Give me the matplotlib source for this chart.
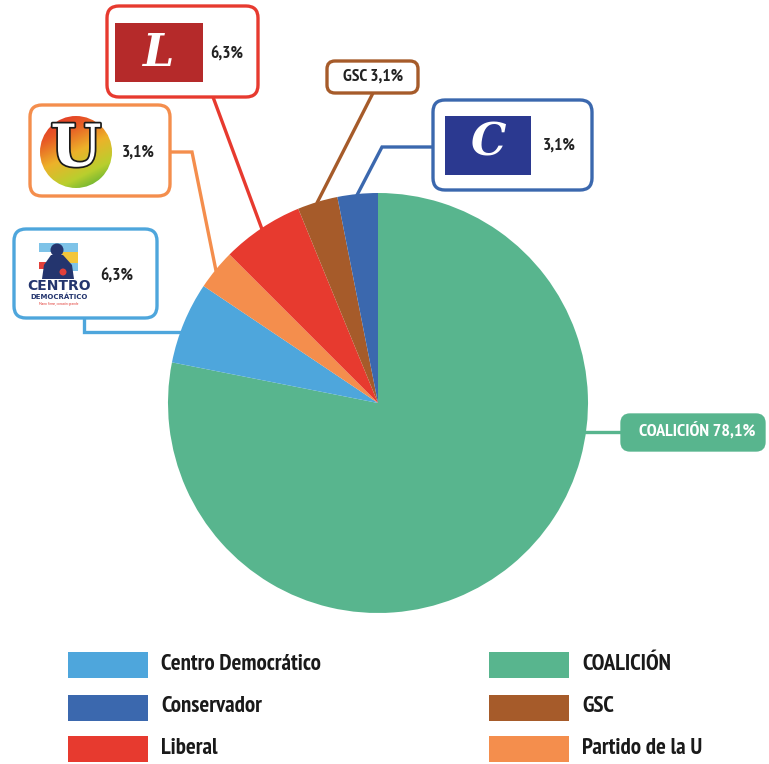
import numpy as np
import matplotlib
matplotlib.use('Agg')
import matplotlib.pyplot as plt
from matplotlib.patches import FancyBboxPatch, Rectangle, Circle, Polygon
import matplotlib.patheffects as pe

plt.rcParams['font.family'] = ['PT Sans Narrow', 'DejaVu Sans']

# datos
partidos = ['COALICIÓN', 'Centro Democrático', 'Partido de la U', 'Liberal', 'GSC', 'Conservador']
porcentajes = [78.1, 6.3, 3.1, 6.3, 3.1, 3.1]
colores = ['#58B58E', '#4EA6DC', '#F48E4D', '#E73A2F', '#A65B2A', '#3B68AE']
etiquetas = ['COALICIÓN 78,1%', '6,3%', '3,1%', '6,3%', 'GSC 3,1%', '3,1%']

# orden de la leyenda (dos columnas)
leyenda_col1 = ['Centro Democrático', 'Conservador', 'Liberal']
leyenda_col2 = ['COALICIÓN', 'GSC', 'Partido de la U']

W, H = 769, 764
fig = plt.figure(figsize=(W / 100, H / 100), dpi=100)
ax = fig.add_axes([0, 0, 1, 1])

cx, cy, R = 378, 403, 210
wedges, _ = ax.pie(porcentajes, colors=colores, startangle=-90, counterclock=True,
                   center=(cx, cy), radius=R, wedgeprops=dict(linewidth=0))
ax.set_xlim(0, W)
ax.set_ylim(H, 0)
ax.set_aspect('equal')
ax.axis('off')


def punto_medio(w):
    ang = np.deg2rad((w.theta1 + w.theta2) / 2)
    return cx + R * np.cos(ang), cy + R * np.sin(ang)


def borde_en_y(y, lado):
    dx = np.sqrt(R ** 2 - (y - cy) ** 2)
    return cx + lado * dx


def caja(x0, y0, x1, y1, color, rad=12, fill='white'):
    p = FancyBboxPatch((x0, y0), x1 - x0, y1 - y0,
                       boxstyle=f"round,pad=0,rounding_size={rad}",
                       fc=fill, ec=color, lw=2.4, zorder=5)
    ax.add_patch(p)


lw_con = 2.4
txt = dict(fontsize=12.5, fontweight='bold', color='#222222', ha='center', va='center', zorder=7)

# COALICION
c = colores[0]
xe = borde_en_y(432, 1)
ax.plot([xe - 2, 622], [432, 432], color=c, lw=lw_con, zorder=4)
caja(622, 415, 764, 450, c, rad=8, fill=c)
ax.text(697, 432, etiquetas[0], fontsize=13, fontweight='bold', color='white',
        ha='center', va='center', zorder=7)

# Centro Democratico
c = colores[1]
xe = borde_en_y(332, -1)
ax.plot([84, 84, xe + 2], [318, 332, 332], color=c, lw=lw_con, zorder=4, solid_joinstyle='miter')
caja(14, 229, 157, 318, c)
ax.text(117, 277, etiquetas[1], **txt)
# logo aproximado
ax.add_patch(Rectangle((39, 243), 39, 9, fc='#7EC3E8', ec='none', zorder=6))
ax.add_patch(Rectangle((62, 252), 16, 11, fc='#F3C63B', ec='none', zorder=6))
ax.add_patch(Rectangle((39, 262), 10, 7, fc='#E2403A', ec='none', zorder=6))
ax.add_patch(Rectangle((66, 263), 12, 8, fc='#7EC3E8', ec='none', zorder=6))
ax.add_patch(Circle((57, 250), 6.5, fc='#24356E', ec='none', zorder=7))
ax.add_patch(Polygon([(51, 255), (63, 255), (72, 265), (74, 279), (42, 279), (44, 265)],
                     closed=True, fc='#24356E', ec='none', zorder=7))
ax.add_patch(Circle((63, 272), 3.5, fc='#E2403A', ec='none', zorder=8))
ax.text(59, 286.5, 'CENTRO', fontsize=10, fontweight='bold', family='DejaVu Sans',
        color='#24356E', ha='center', va='center', zorder=7)
ax.text(59, 297, 'DEMOCRÁTICO', fontsize=5, fontweight='bold', family='DejaVu Sans',
        color='#24356E', ha='center', va='center', zorder=7)
ax.text(59, 304, 'Mano firme, corazón grande', fontsize=3, color='#E2403A',
        ha='center', va='center', zorder=7)

# Partido de la U
c = colores[2]
xm, ym = punto_medio(wedges[2])
ax.plot([170, 192, xm], [152, 152, ym], color=c, lw=lw_con, zorder=4, solid_joinstyle='miter')
caja(30, 105, 170, 196, c)
ax.text(138, 153, etiquetas[2], **txt)
grad = np.linspace(0, 1, 100)[:, None] * np.ones((1, 100))
grad = grad + 0.25 * np.linspace(-1, 1, 100)[None, :]
cmap_u = matplotlib.colors.LinearSegmentedColormap.from_list(
    'u', ['#E12A2B', '#E85A25', '#EDB22A', '#B9CF2E', '#3FA535'])
im = ax.imshow(grad, cmap=cmap_u, extent=(40, 112, 188, 116), origin='upper', zorder=6,
               interpolation='bilinear')
circ = Circle((76, 152), 36, transform=ax.transData, fc='none', ec='none')
ax.add_patch(circ)
im.set_clip_path(circ)
ax.text(76, 150, 'U', fontsize=42, fontweight='bold', family='DejaVu Serif', color='white',
        ha='center', va='center', zorder=8,
        path_effects=[pe.withStroke(linewidth=2.5, foreground='#1a1a1a')])

# Liberal
c = colores[3]
xm, ym = punto_medio(wedges[3])
ax.plot([213, xm], [97, ym], color=c, lw=lw_con, zorder=4)
caja(107, 6, 258, 97, c)
ax.add_patch(Rectangle((115, 23), 88, 59, fc='#B52A2A', ec='none', zorder=6))
ax.text(158, 53, 'L', fontsize=32, fontweight='bold', style='italic', family='DejaVu Serif',
        color='white', ha='center', va='center', zorder=7)
ax.text(227, 55, etiquetas[3], **txt)

# GSC
c = colores[4]
xm, ym = punto_medio(wedges[4])
ax.plot([373, xm], [93, ym], color=c, lw=lw_con, zorder=4)
caja(327, 61, 418, 93, c, rad=8)
ax.text(373, 77, etiquetas[4], **txt)

# Conservador
c = colores[5]
xm, ym = punto_medio(wedges[5])
ax.plot([433, 382, xm], [147, 147, ym], color=c, lw=lw_con, zorder=4, solid_joinstyle='miter')
caja(433, 100, 592, 190, c)
ax.add_patch(Rectangle((445, 116), 86, 59, fc='#2B3990', ec='none', zorder=6))
ax.text(488, 143, 'C', fontsize=32, style='italic', fontweight='bold', family='DejaVu Serif',
        color='white', ha='center', va='center', zorder=7)
ax.text(559, 146, etiquetas[5], **txt)

# leyenda
filas_y = [665, 708, 749]
for col_x, nombres in [(68, leyenda_col1), (489, leyenda_col2)]:
    for yy, nombre in zip(filas_y, nombres):
        col = colores[partidos.index(nombre)]
        ax.add_patch(Rectangle((col_x, yy - 13), 80, 26, fc=col, ec='none'))
        ax.text(col_x + 93, yy - 1, nombre, fontsize=16.5, fontweight='bold', color='#1a1a1a',
                ha='left', va='center')

fig.savefig('out.png', dpi=100, facecolor='white')
